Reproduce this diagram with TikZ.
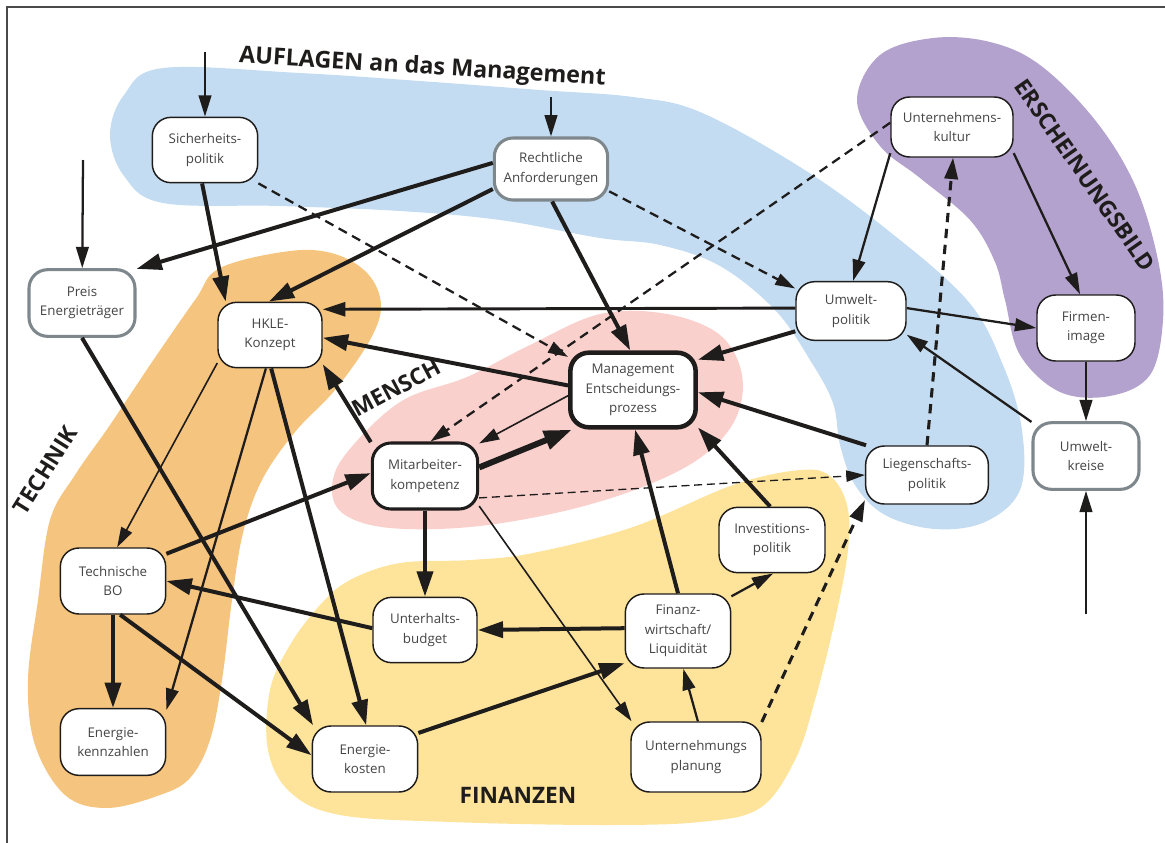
\documentclass[tikz,border=0pt]{standalone}
\usepackage{fontspec}
\setmainfont{Open Sans}
\usetikzlibrary{arrows.meta}

\definecolor{zoneblue}{HTML}{C4DCF1}
\definecolor{zonepurple}{HTML}{B3A2CD}
\definecolor{zoneorange}{HTML}{F5C47E}
\definecolor{zonepink}{HTML}{F9D0CB}
\definecolor{zoneyellow}{HTML}{FEE49B}
\definecolor{ink}{HTML}{1F1C1C}
\definecolor{boxtext}{HTML}{454545}
\definecolor{rimgray}{HTML}{7E878C}
\definecolor{framegray}{HTML}{4A4A4A}

\begin{document}
\begin{tikzpicture}[x=0.75pt,y=-0.75pt,
  box/.style={draw=ink, line width=1.1pt, fill=white, rounded corners=14pt,
    align=center, inner sep=2pt, text=boxtext,
    font=\fontsize{10}{14.5}\selectfont},
  gbox/.style={box, draw=rimgray, line width=2.3pt},
  mbox/.style={box, line width=3.4pt},
  kbox/.style={box, line width=2.3pt},
  title/.style={text=ink, font=\fontsize{17}{20}\selectfont\bfseries, inner sep=0pt},
  thk/.style={draw=ink, line width=3pt, -{Triangle[length=19pt,width=12pt]}},
  vthk/.style={draw=ink, line width=4.5pt, -{Triangle[length=21pt,width=14pt]}},
  medk/.style={draw=ink, line width=2.2pt, -{Triangle[length=17pt,width=10.5pt]}},
  med/.style={draw=ink, line width=1.7pt, -{Triangle[length=16pt,width=9.5pt]}},
  thn/.style={draw=ink, line width=1.2pt, -{Triangle[length=15pt,width=9pt]}},
  dsh/.style={draw=ink, line width=1.7pt, dash pattern=on 7pt off 4.5pt, -{Triangle[length=15pt,width=9pt]}},
  dshk/.style={draw=ink, line width=2.3pt, dash pattern=on 7pt off 5pt, -{Triangle[length=16pt,width=10pt]}},
  dshn/.style={draw=ink, line width=1pt, dash pattern=on 6pt off 3.5pt, -{Triangle[length=14pt,width=8.5pt]}},
]
\useasboundingbox (0,0) rectangle (1165,843);

% frame
\draw[framegray, line width=1pt] (7,843) -- (7,7) -- (1165,7);

% ---------- coloured zones ----------
\fill[zoneblue] plot[smooth cycle, tension=0.6] coordinates {
  (163,68) (300,73) (420,81) (540,90) (633,97) (700,112) (800,167) (885,228)
  (967,300) (1003,365) (1022,430) (1020,490) (985,522) (935,529) (885,515)
  (855,485) (840,445) (833,403) (810,360) (775,310) (720,266) (660,245)
  (600,238) (500,220) (400,211) (280,206) (163,203) (124,176) (110,135) (124,95)};

\fill[zonepurple] plot[smooth cycle, tension=0.6] coordinates {
  (857,100) (880,55) (933,38) (990,42) (1040,65) (1095,120) (1135,185)
  (1158,260) (1163,320) (1150,375) (1110,396) (1060,392) (1020,355)
  (1005,300) (995,262) (970,220) (920,178) (880,146)};

\fill[zoneorange] plot[smooth cycle, tension=0.6] coordinates {
  (195,300) (220,268) (290,251) (335,254) (368,274) (381,305) (370,340)
  (335,390) (295,432) (262,480) (243,533) (232,600) (222,680) (210,740)
  (190,778) (160,795) (107,808) (65,795) (35,745) (28,680) (38,600)
  (50,520) (75,475) (110,425) (150,365)};

\fill[zonepink] plot[smooth cycle, tension=0.6] coordinates {
  (332,490) (345,455) (400,402) (467,377) (530,345) (600,314) (667,314)
  (720,335) (742,375) (735,420) (700,458) (640,488) (560,512) (470,527)
  (390,528) (345,515)};

\fill[zoneyellow] plot[smooth cycle, tension=0.6] coordinates {
  (320,605) (350,580) (400,563) (470,560) (533,553) (633,527) (733,485)
  (800,470) (830,476) (847,505) (848,550) (835,620) (815,700) (795,760)
  (760,808) (700,822) (600,825) (450,822) (340,815) (290,792) (268,750)
  (270,690) (290,645)};

% ---------- zone titles ----------
\node[title, rotate=-3.5, anchor=base, font=\fontsize{17.5}{20}\selectfont\bfseries] (tAuf) at (422,74) {AUFLAGEN an das Management};
\node[title, rotate=-55] (tErs) at (1085,175) {ERSCHEINUNGSBILD};
\node[title, rotate=58] (tTec) at (45,470) {TECHNIK};
\node[title, rotate=28] (tMen) at (396,388) {MENSCH};
\node[title] (tFin) at (518,795) {FINANZEN};

% ---------- nodes ----------
\node[box,  minimum width=79pt,   minimum height=49pt]   (sich)   at (205,150)  {Sicherheits-\\politik};
\node[gbox, minimum width=85pt,   minimum height=46.5pt] (rech)   at (551,169)  {Rechtliche\\Anforderungen};
\node[gbox, minimum width=79.5pt, minimum height=50pt]   (preis)  at (82,303)   {Preis\\Energieträger};
\node[box,  minimum width=78pt,   minimum height=49pt]   (hkle)   at (270,335)  {HKLE-\\Konzept};
\node[box,  minimum width=82.5pt, minimum height=44pt]   (umwp)   at (851,311)  {Umwelt-\\politik};
\node[box,  minimum width=91.5pt, minimum height=45pt]   (ukult)  at (952,127)  {Unternehmens-\\kultur};
\node[box,  minimum width=73.5pt, minimum height=49.5pt] (firm)   at (1086,328) {Firmen-\\image};
\node[gbox, minimum width=79.5pt, minimum height=50pt]   (ukreis) at (1086,456) {Umwelt-\\kreise};
\node[mbox, minimum width=94pt,   minimum height=56pt]   (mgmt)   at (633,390)  {Management\\Entscheidungs-\\prozess};
\node[kbox, minimum width=79pt,   minimum height=49.5pt] (mitar)  at (425,476)  {Mitarbeiter-\\kompetenz};
\node[box,  minimum width=92pt,   minimum height=43.5pt] (liegp)  at (927,475)  {Liegenschafts-\\politik};
\node[box,  minimum width=79.5pt, minimum height=49pt]   (invp)   at (772,540)  {Investitions-\\politik};
\node[box,  minimum width=79pt,   minimum height=49.5pt] (tbo)    at (113,581)  {Technische\\BO};
\node[box,  minimum width=78pt,   minimum height=49pt]   (unterh) at (425,630)  {Unterhalts-\\budget};
\node[box,  minimum width=79pt,   minimum height=55.5pt] (finw)   at (678,631)  {Finanz-\\wirtschaft/\\Liquidität};
\node[box,  minimum width=79pt,   minimum height=50pt]   (ekz)    at (113,742)  {Energie-\\kennzahlen};
\node[box,  minimum width=79pt,   minimum height=49.5pt] (ekost)  at (365,759)  {Energie-\\kosten};
\node[box,  minimum width=97.5pt, minimum height=52.5pt] (uplan)  at (696,757)  {Unternehmungs\\planung};

% free ends of the incoming arrows
\coordinate (inS) at (205,52);
\coordinate (inR) at (551,97);
\coordinate (inP) at (83,160);
\coordinate (inU) at (1086,614);

% ---------- connectors ----------
\draw[med] (inS) -- (sich);
\draw[med] (inR) -- (rech);
\draw[med] (inP) -- (preis);
\draw[med] (inU) -- (ukreis);

\draw[thk] (sich.-95) -- (hkle.143);
\draw[dsh] (sich.-32) -- (mgmt.153);
\draw[thk] (rech.174) -- (preis.32);
\draw[thk] (rech.199) -- (hkle.92);
\draw[thk] (rech.-88) -- (mgmt.94);
\draw[dsh] (rech.-21) -- (umwp.158);

\draw[dsh] (ukult.176) -- (mitar.81);
\draw[med] (ukult.203) -- (umwp.86);
\draw[med] (ukult.-23) -- (firm.100);
\draw[dshk] (liegp.north) -- (ukult.-88);

\draw[medk] (umwp.177) -- (hkle.26);
\draw[med] (umwp.3) -- (firm.west);
\draw[thk] (umwp.200) -- (mgmt.25);
\draw[med] (ukreis.148) -- (umwp.-23);
\draw[med] (firm) -- (ukreis);

\draw[thk] (mgmt.176) -- (hkle.-3);
\draw[thn] (mgmt.185) -- (mitar.31);
\draw[vthk] (mitar.9) -- (mgmt.213);
\draw[thk] (mitar.148) -- (hkle.-29);
\draw[thk] (liegp.154) -- (mgmt.-2);
\draw[thk] (invp.93) -- (mgmt.-30);
\draw[thk] (finw.90) -- (mgmt.-87);

\draw[med] (finw.33) -- (invp.-88);
\draw[thk] (finw.177) -- (unterh.0);
\draw[thk] (mitar) -- (unterh);
\draw[thn] (mitar.-29) -- (uplan.151);
\draw[dshn] (mitar.-22) -- (liegp.180);
\draw[dshk] (uplan.28) -- (liegp.202);
\draw[med] (uplan.87) -- (finw.-82);
\draw[thk] (ekost.26) -- (finw.211);

\draw[thk] (tbo.27) -- (mitar.177);
\draw[thk] (unterh.178) -- (tbo.0);
\draw[thk] (tbo) -- (ekz);
\draw[thk] (tbo.-78) -- (ekost.176);
\draw[thn] (hkle.208) -- (tbo.83);
\draw[med] (hkle.-97) -- (ekz.31);
\draw[thk] (hkle.-88) -- (ekost.88);
\draw[thk] (preis.south) -- (ekost.147);
\end{tikzpicture}
\end{document}
